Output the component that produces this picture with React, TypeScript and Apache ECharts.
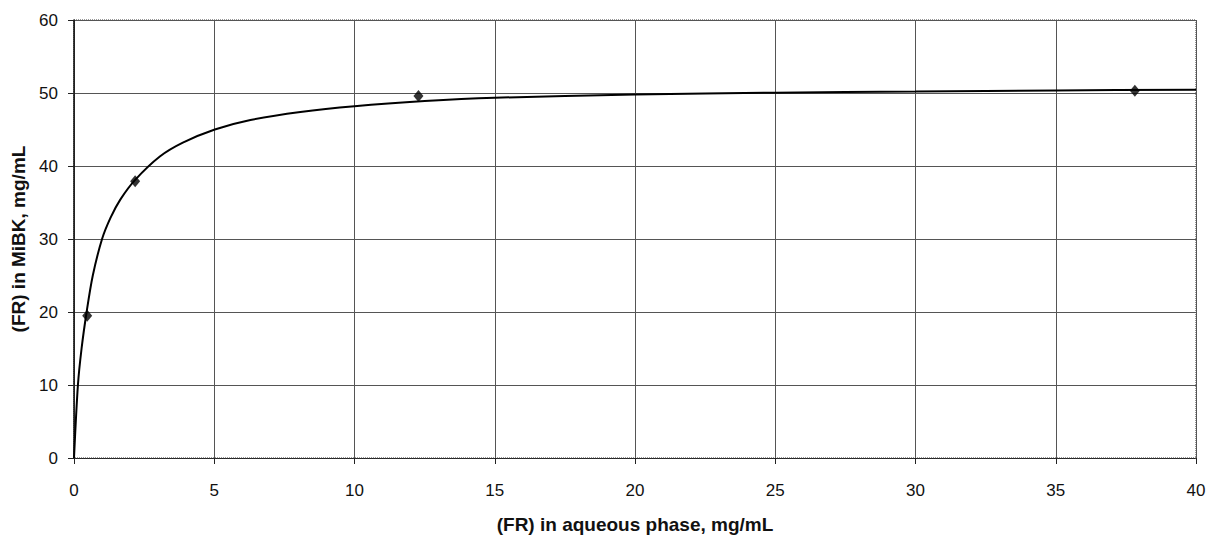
import React, { useEffect, useRef } from "react";
import * as echarts from "echarts";

const measuredX = [0.47, 2.18, 12.28, 37.82];
const measuredY = [19.5, 37.9, 49.6, 50.3];

const curveX = [0, 0.14, 0.27, 0.45, 0.67, 1.0, 1.3, 1.65, 2.18, 3.06, 3.88, 5.02, 6.29, 8.07, 10, 12.5, 15, 20, 25, 30, 35, 40];
const curveY = [0, 10, 15, 20, 25, 30, 32.9, 35.4, 38.1, 41.3, 43.2, 45.0, 46.3, 47.4, 48.2, 48.9, 49.35, 49.8, 50.05, 50.2, 50.35, 50.45];

const xTitle = "(FR) in aqueous phase, mg/mL";
const yTitle = "(FR) in MiBK, mg/mL";

export default function App() {
  const ref = useRef<HTMLDivElement>(null);
  useEffect(() => {
    if (!ref.current) return;
    const chart = echarts.init(ref.current, null, { renderer: "svg" });
    const font = "Liberation Sans, Arial, sans-serif";
    chart.setOption({
      animation: false,
      backgroundColor: "#fff",
      grid: {
        left: 74,
        right: 13,
        top: 20,
        bottom: 81,
        show: true,
        borderColor: "#333",
        borderWidth: 1,
        borderType: "dotted",
      },
      xAxis: {
        type: "value",
        min: 0,
        max: 40,
        interval: 5,
        name: xTitle,
        nameLocation: "middle",
        nameGap: 57,
        nameTextStyle: { fontFamily: font, fontSize: 19, fontWeight: "bold", color: "#111" },
        axisLine: { show: true, onZero: false, lineStyle: { color: "#222", width: 1, type: "dotted" } },
        axisTick: { show: true, length: 6, lineStyle: { color: "#222" } },
        axisLabel: { margin: 24, fontFamily: font, fontSize: 17, color: "#111" },
        splitLine: { show: true, lineStyle: { color: "#555", width: 1 } },
      },
      yAxis: {
        type: "value",
        min: 0,
        max: 60,
        interval: 10,
        name: yTitle,
        nameLocation: "middle",
        nameGap: 45,
        nameRotate: 90,
        nameTextStyle: { fontFamily: font, fontSize: 19, fontWeight: "bold", color: "#111" },
        axisLine: { show: true, lineStyle: { color: "#111", width: 1.5 } },
        axisTick: { show: true, length: 6, lineStyle: { color: "#222" } },
        axisLabel: { margin: 16, fontFamily: font, fontSize: 17, color: "#111" },
        splitLine: { show: true, lineStyle: { color: "#555", width: 1 } },
      },
      series: [
        {
          type: "line",
          data: curveX.map((x, i) => [x, curveY[i]]),
          smooth: 0.3,
          showSymbol: false,
          lineStyle: { color: "#000", width: 2 },
          z: 3,
        },
        {
          type: "scatter",
          data: measuredX.map((x, i) => [x, measuredY[i]]),
          symbol: "diamond",
          symbolSize: [10, 12],
          itemStyle: { color: "#000" },
          z: 4,
        },
      ],
    });
    return () => chart.dispose();
  }, []);
  return <div ref={ref} style={{ width: 1209, height: 539, position: "absolute", left: 0, top: 0 }} />;
}
